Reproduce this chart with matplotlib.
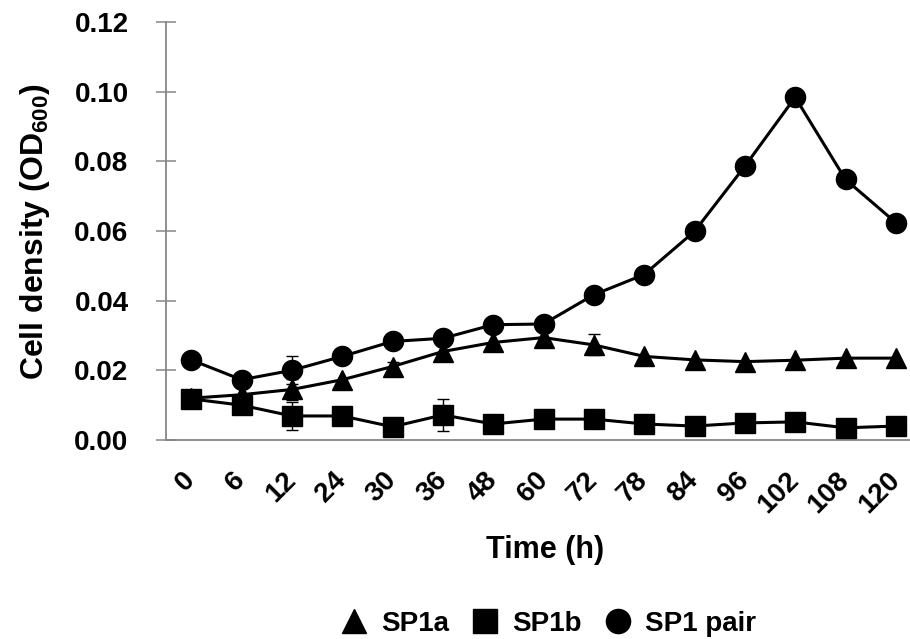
import numpy as np
import matplotlib
matplotlib.use("Agg")
import matplotlib.pyplot as plt
from matplotlib.lines import Line2D

plt.rcParams["font.family"] = ["Liberation Sans", "DejaVu Sans"]
plt.rcParams["font.weight"] = "bold"
plt.rcParams["axes.labelweight"] = "bold"
plt.rcParams["mathtext.fontset"] = "custom"
plt.rcParams["mathtext.rm"] = "Liberation Sans:bold"
plt.rcParams["mathtext.bf"] = "Liberation Sans:bold"
plt.rcParams["mathtext.default"] = "bf"

# 시간(h) 카테고리
times = ["0", "6", "12", "24", "30", "36", "48", "60", "72", "78", "84", "96", "102", "108", "120"]

sp1a = [0.0120, 0.0130, 0.0145, 0.0173, 0.0211, 0.0254, 0.0280, 0.0294,
        0.0273, 0.0240, 0.0230, 0.0225, 0.0229, 0.0235, 0.0235]
sp1b = [0.0118, 0.0100, 0.0069, 0.0069, 0.0038, 0.0072, 0.0046, 0.0060,
        0.0060, 0.0046, 0.0040, 0.0049, 0.0052, 0.0035, 0.0040]
sp1_pair = [0.0230, 0.0173, 0.0200, 0.0240, 0.0283, 0.0292, 0.0331, 0.0333,
            0.0417, 0.0475, 0.0599, 0.0786, 0.0984, 0.0748, 0.0624]

# 오차 (보이는 것만)
sp1a_err = [np.nan, np.nan, 0.003, np.nan, 0.0012, np.nan, np.nan, np.nan,
            0.003, np.nan, np.nan, np.nan, np.nan, np.nan, np.nan]
sp1b_err = [np.nan, np.nan, 0.004, np.nan, np.nan, 0.0045, np.nan, np.nan,
            np.nan, np.nan, np.nan, np.nan, np.nan, np.nan, np.nan]
pair_err = [np.nan, np.nan, 0.004, np.nan, np.nan, np.nan, np.nan, np.nan,
            np.nan, np.nan, np.nan, np.nan, np.nan, np.nan, np.nan]

yticks = [0.00, 0.02, 0.04, 0.06, 0.08, 0.10, 0.12]

W, H = 910, 639
fig = plt.figure(figsize=(W / 100, H / 100), dpi=100)
ax = fig.add_axes([166 / W, 199 / H, 755 / W, 418 / H])

x = np.arange(len(times))
series = [(sp1a, sp1a_err, "^", "SP1a"),
          (sp1b, sp1b_err, "s", "SP1b"),
          (sp1_pair, pair_err, "o", "SP1 pair")]
for vals, err, mk, lab in series:
    e = np.array(err, dtype=float)
    ok = ~np.isnan(e)
    ax.errorbar(x[ok], np.array(vals)[ok], yerr=e[ok], fmt="none",
                ecolor="black", elinewidth=1, capsize=4.3, capthick=1, zorder=2)
    ax.plot(x, vals, color="black", lw=2.2, marker=mk, ms=14.5,
            mec="black", mfc="black", zorder=3)

ax.set_xlim(-0.5, len(times) - 0.5)
ax.set_ylim(0, 0.12)
ax.set_yticks(yticks)
ax.set_yticklabels([f"{v:.2f}" for v in yticks])
ax.set_xticks(x)
ax.set_xticklabels(times, rotation=45, rotation_mode="anchor", ha="right", va="center")

for s in ["top", "right"]:
    ax.spines[s].set_visible(False)
for s in ["left", "bottom"]:
    ax.spines[s].set_color("#868686")
    ax.spines[s].set_linewidth(1.3)

ax.tick_params(axis="y", direction="inout", length=14, width=1.1, color="#868686",
               labelsize=20, pad=20)
ax.tick_params(axis="x", length=0, labelsize=20, pad=26)

ax.set_ylabel("Cell density (OD$_{600}$)", fontsize=23, fontweight="bold")
ax.yaxis.set_label_coords(52 / W, 1 - 232 / H, transform=fig.transFigure)
ax.set_xlabel("Time (h)", fontsize=22, fontweight="bold")
ax.xaxis.set_label_coords(545 / W, 1 - 535 / H, transform=fig.transFigure)

handles = [Line2D([], [], ls="none", marker=mk, ms=14.5, color="black")
           for _, _, mk, _ in series]
fig.legend(handles, [lab for *_, lab in series], loc="center",
           bbox_to_anchor=(548 / W, 1 - 624 / H), ncol=3, frameon=False,
           fontsize=20, markerscale=1.2, handlelength=1.0, handletextpad=0.47,
           columnspacing=0.8)

fig.savefig("out.png", dpi=100)
